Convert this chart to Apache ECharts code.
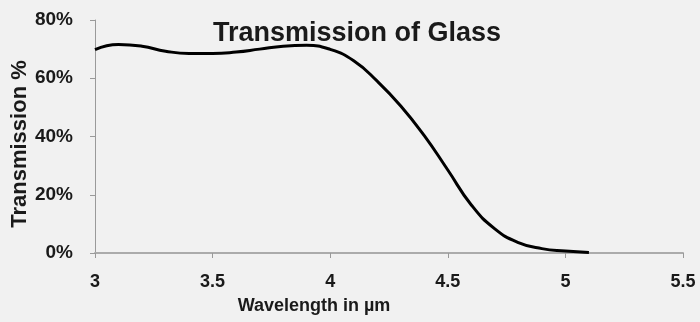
<!DOCTYPE html>
<html>
<head>
<meta charset="utf-8">
<title>Transmission of Glass</title>
<script src="https://cdn.jsdelivr.net/npm/echarts@6/dist/echarts.min.js"></script>
<style>
  html, body { margin: 0; padding: 0; background: #f1f1f1; }
  #chart { width: 700px; height: 322px; }
</style>
</head>
<body>
<div id="chart"></div>
<script>
// wavelength (µm) and transmission (%)
const wavelength = [3.0, 3.1, 3.2, 3.3, 3.4, 3.5, 3.6, 3.7, 3.8, 3.9, 4.0, 4.1, 4.2, 4.3, 4.4, 4.5, 4.6, 4.7, 4.8, 4.9, 5.0, 5.1];
const transmission = [69.8, 71.6, 71.0, 69.3, 68.5, 68.5, 69.0, 70.0, 71.0, 71.3, 69.9, 66.0, 59.0, 50.5, 40.3, 28.5, 16.5, 8.3, 3.6, 1.5, 0.7, 0.2];
const xTicks = [3, 3.5, 4, 4.5, 5, 5.5];
const yTicks = [0, 20, 40, 60, 80];

const points = wavelength.map((w, i) => [w, transmission[i]]);

const chart = echarts.init(document.getElementById("chart"));

const font = "'Liberation Sans', Arial, sans-serif";

const option = {
  backgroundColor: "#f1f1f1",
  animation: false,
  textStyle: { fontFamily: font },
  title: {
    text: "Transmission of Glass",
    left: 352,
    top: 15,
    textAlign: "center",
    textStyle: {
      fontFamily: font,
      fontSize: 27,
      fontWeight: "bold",
      color: "#1a1a1a",
    },
  },
  grid: {
    left: 95,
    right: 17,
    top: 20,
    bottom: 69,
    containLabel: false,
    outerBoundsMode: "none",
  },
  xAxis: {
    type: "value",
    min: xTicks[0],
    max: xTicks[xTicks.length - 1],
    interval: 0.5,
    name: "Wavelength in µm",
    nameLocation: "middle",
    nameGap: 44,
    nameMoveOverlap: false,
    nameTextStyle: {
      fontFamily: font,
      fontSize: 18,
      fontWeight: "bold",
      color: "#1a1a1a",
      padding: [0, 150, 0, 0],
    },
    axisLine: {
      lineStyle: { color: "#ababab", width: 2 },
    },
    axisTick: {
      show: true,
      inside: false,
      length: 5,
      lineStyle: { color: "#999", width: 1 },
    },
    axisLabel: {
      margin: 20,
      fontFamily: font,
      fontSize: 18,
      fontWeight: "bold",
      color: "#1a1a1a",
      formatter: (v) => String(v),
    },
    splitLine: { show: false },
  },
  yAxis: {
    type: "value",
    min: yTicks[0],
    max: yTicks[yTicks.length - 1],
    interval: 20,
    name: "Transmission %",
    nameLocation: "middle",
    nameGap: 64,
    nameMoveOverlap: false,
    nameRotate: 90,
    nameTextStyle: {
      fontFamily: font,
      fontSize: 22,
      fontWeight: "bold",
      color: "#1a1a1a",
      padding: [0, 15, 0, 0],
    },
    axisLine: {
      show: true,
      lineStyle: { color: "#9a9a9a", width: 1 },
    },
    axisTick: {
      show: true,
      length: 5,
      lineStyle: { color: "#9a9a9a", width: 1 },
    },
    axisLabel: {
      margin: 22,
      fontFamily: font,
      fontSize: 19,
      fontWeight: "bold",
      color: "#1a1a1a",
      formatter: "{value}%",
    },
    splitLine: { show: false },
  },
  series: [
    {
      name: "Transmission",
      type: "line",
      data: points,
      smooth: 0.5,
      showSymbol: false,
      lineStyle: { color: "#000", width: 3 },
    },
  ],
};

chart.setOption(option);
</script>
</body>
</html>
